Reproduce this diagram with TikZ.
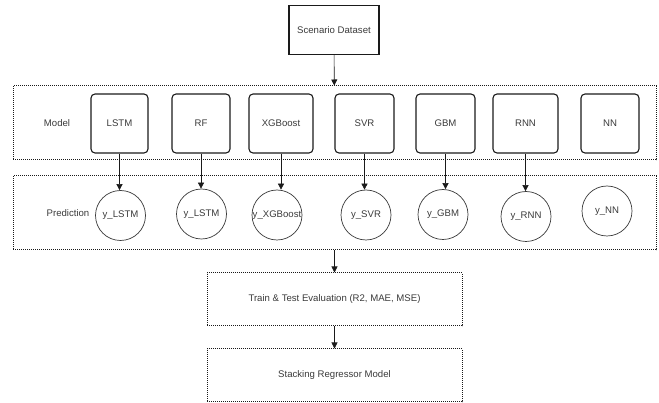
\documentclass[tikz,border=0pt]{standalone}
\usepackage{fontspec}
\setmainfont{Liberation Sans}
\usetikzlibrary{arrows.meta,positioning}
\definecolor{Ink}{HTML}{1A1A1A}
\definecolor{Lead}{HTML}{3A3A3A}

\tikzset{
  modelbox/.style={draw=Ink,line width=1.1pt,rounded corners=4pt,minimum height=59pt,inner sep=0pt},
  predcirc/.style={draw=Lead,line width=.7pt,circle,minimum size=50pt,inner sep=0pt},
  dotbox/.style={draw=Ink,line width=1pt,dash pattern=on 1pt off 1pt},
  flow/.style={draw=Ink,line width=.6pt,-{Triangle[length=6pt,width=6pt]}},
}

\begin{document}
\begin{tikzpicture}[x=1pt,y=-1pt,font=\fontsize{9.6}{11}\selectfont,text=Lead]
  \useasboundingbox (0,0) rectangle (659,403);
  \node[draw=Ink,line width=1.1pt,minimum width=90pt,minimum height=49pt] (data) at (334,30) {Scenario Dataset};
  \node[dotbox,minimum width=643pt,minimum height=74pt] (modelrow) at (334.5,123) {};
  \node[dotbox,minimum width=643pt,minimum height=74pt] (predrow) at (334.5,213) {};
  \node (modellab) at (57,123) {Model};
  \node (predlab) at (68,213) {Prediction};
  \foreach \i/\name/\x/\w in {1/LSTM/119.5/57,2/RF/201/58,3/XGBoost/281/64,4/SVR/364.5/59,5/GBM/445.5/59,6/RNN/525.5/65,7/NN/610/58}
    \node[modelbox,minimum width=\w pt] (m\i) at (\x,123.5) {\name};
  \foreach \i/\name/\x/\y in {1/LSTM/120.5/215.5,2/LSTM/201.5/214,3/XGBoost/277/215,4/SVR/366/215,5/GBM/443/214.5,6/RNN/526/216.5,7/NN/607/211}
    \node[predcirc] (p\i) at (\x,\y) {\makebox[0pt]{y\_\name}};
  \foreach \i in {1,...,6}
    \draw[flow] (m\i.south) -- (m\i.south |- p\i.north);
  \node[dotbox,minimum width=255pt,minimum height=53pt] (evalbox) at (334.5,299.5) {Train \& Test Evaluation (R2, MAE, MSE)};
  \node[dotbox,minimum width=255pt,minimum height=53pt] (stackbox) at (334.5,375.5) {Stacking Regressor Model};
  \draw[flow] (data) -- (modelrow);
  \draw[flow] (predrow) -- (evalbox);
  \draw[flow] (evalbox) -- (stackbox);
\end{tikzpicture}
\end{document}
